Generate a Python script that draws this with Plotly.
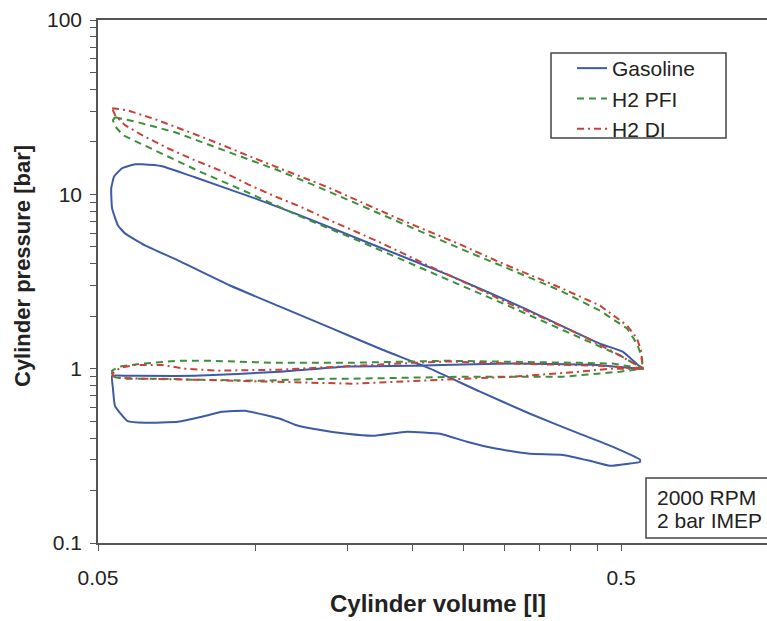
import math
import plotly.graph_objects as go

# ---- data (volume in l, pressure in bar) ----
gasoline_volume = [0.0607, 0.0663, 0.0766, 0.0998, 0.1217, 0.1693, 0.2355, 0.3277, 0.4558, 0.5044, 0.5389, 0.5508,
                   0.5389, 0.4499, 0.3108, 0.2001, 0.1496, 0.1114, 0.0766, 0.0570, 0.0532,
                   0.0534, 0.0539, 0.0570, 0.0615, 0.0711, 0.0790, 0.0863, 0.0955, 0.1057, 0.1114, 0.1190, 0.1288,
                   0.1496, 0.1678, 0.1949, 0.2254, 0.2538, 0.2896, 0.3350, 0.3873, 0.4362, 0.4764, 0.5133, 0.5437,
                   0.5437, 0.4827, 0.4174, 0.3350, 0.2688, 0.2157, 0.1731, 0.1389, 0.1114, 0.0894, 0.0711, 0.0615,
                   0.0563, 0.0546, 0.0532, 0.0530, 0.0537, 0.0556, 0.0589, 0.0607]
gasoline_pressure = [14.87, 14.49, 12.52, 9.48, 7.57, 5.09, 3.42, 2.21, 1.39, 1.25, 1.05, 1.00,
                     1.00, 1.05, 1.07, 1.04, 1.03, 0.96, 0.91, 0.91, 0.91,
                     0.77, 0.61, 0.50, 0.489, 0.496, 0.530, 0.566, 0.574, 0.537, 0.516, 0.477, 0.452,
                     0.423, 0.412, 0.435, 0.423, 0.381, 0.347, 0.325, 0.320, 0.296, 0.277, 0.284, 0.292,
                     0.30, 0.356, 0.423, 0.551, 0.738, 1.0, 1.30, 1.72, 2.27, 3.00, 4.18, 5.09,
                     5.97, 6.63, 8.31, 10.83, 12.69, 14.11, 14.87, 14.87]

h2pfi_volume = [0.0539, 0.0596, 0.0702, 0.0801, 0.0943, 0.1104, 0.1283, 0.1585, 0.1975, 0.2461, 0.3068, 0.3822,
                0.4559, 0.5134, 0.5365, 0.5461, 0.5509,
                0.4827, 0.4173, 0.3109, 0.2324, 0.1496, 0.1100, 0.0819, 0.0708, 0.0610, 0.0551, 0.0532,
                0.0532, 0.0558, 0.0657, 0.0760, 0.1020, 0.1370, 0.1537, 0.2494, 0.3872, 0.4978, 0.5509,
                0.4978, 0.3941, 0.3068, 0.2284, 0.1585, 0.1217, 0.0985, 0.0773, 0.0686, 0.0620, 0.0558,
                0.0539, 0.0534, 0.0539]
h2pfi_pressure = [27.70, 25.93, 22.72, 19.64, 16.32, 13.74, 11.41, 8.65, 6.46, 4.89, 3.71, 2.81,
                  2.15, 1.70, 1.39, 1.20, 1.00,
                  1.07, 1.08, 1.10, 1.11, 1.08, 1.08, 1.11, 1.11, 1.07, 1.03, 0.974,
                  0.899, 0.876, 0.876, 0.865, 0.853, 0.876, 0.876, 0.899, 0.899, 0.961, 1.00,
                  1.19, 1.63, 2.27, 3.33, 5.37, 7.47, 10.00, 13.74, 16.32, 18.88, 21.83,
                  24.59, 26.62, 27.70]

h2di_volume = [0.0532, 0.0568, 0.0643, 0.0811, 0.1029, 0.1376, 0.1890, 0.2461, 0.2936, 0.3822, 0.4559, 0.5134,
               0.5365, 0.5461, 0.5509,
               0.4559, 0.3109, 0.2324, 0.2001, 0.1496, 0.1114, 0.0848, 0.0733, 0.0663, 0.0588, 0.0551, 0.0532,
               0.0539, 0.0602, 0.0760, 0.1020, 0.1271, 0.1537, 0.2324, 0.3109, 0.4173, 0.4764, 0.5509,
               0.4978, 0.4173, 0.3500, 0.3028, 0.2688, 0.2157, 0.1731, 0.1376, 0.1227, 0.1090, 0.0968, 0.0863,
               0.0766, 0.0680, 0.0607, 0.0563, 0.0539, 0.0532]
h2di_pressure = [31.21, 30.39, 26.98, 20.71, 15.47, 10.97, 7.18, 5.16, 4.07, 2.92, 2.30, 1.77,
                 1.49, 1.27, 1.00,
                 1.04, 1.07, 1.10, 1.08, 1.03, 0.987, 0.974, 1.00, 1.05, 1.05, 1.01, 0.936,
                 0.89, 0.876, 0.865, 0.842, 0.831, 0.820, 0.865, 0.899, 0.961, 1.00, 1.00,
                 1.19, 1.57, 1.99, 2.39, 2.84, 3.86, 5.30, 7.18, 8.42, 9.74, 11.41, 13.56,
                 15.68, 18.38, 21.83, 24.92, 28.44, 31.21]

x_tick_values = [0.05, 0.1, 0.15, 0.2, 0.25, 0.3, 0.35, 0.4, 0.45, 0.5]
x_tick_labels = ["0.05", "", "", "", "", "", "", "", "", "0.5"]
y_tick_values = [m * d for d in (0.1, 1, 10) for m in range(1, 10)] + [100]
y_tick_labels = [("0.1" if v == 0.1 else "1" if v == 1 else "10" if v == 10 else "100" if v == 100 else "")
                 for v in y_tick_values]

FONT = "Liberation Sans, Arial, sans-serif"
W, H = 767, 621
ML, MR, MT, MB = 98, 0, 20, 78
PW, PH = W - ML - MR, H - MT - MB   # 669 x 523


def px(xp):
    return (xp - ML) / PW


def py(yp):
    return (H - MB - yp) / PH


fig = go.Figure()
fig.add_trace(go.Scatter(x=gasoline_volume, y=gasoline_pressure, mode="lines", name="Gasoline",
                         legendgroup="a", line=dict(color="#3D5AA8", width=2, shape="spline", smoothing=0.4)))
fig.add_trace(go.Scatter(x=h2pfi_volume, y=h2pfi_pressure, mode="lines", name="H2 PFI",
                         legendgroup="b", line=dict(color="#3C8F3C", width=2, dash="7px,5px")))
fig.add_trace(go.Scatter(x=h2di_volume, y=h2di_pressure, mode="lines", name="H2 DI",
                         legendgroup="c", line=dict(color="#C8423A", width=2, dash="7px,4px,2px,4px")))

x0 = math.log10(0.05)
decade_px = 523.0
fig.update_xaxes(type="log", range=[x0, x0 + PW / decade_px], tickvals=x_tick_values, ticktext=x_tick_labels,
                 ticks="outside", ticklen=6, tickcolor="#555", showline=True, linecolor="#555", linewidth=1.5,
                 mirror=True, showgrid=False, zeroline=False, ticklabelstandoff=9,
                 tickfont=dict(family=FONT, size=21, color="#222"))
fig.update_yaxes(type="log", range=[-1, 2], tickvals=y_tick_values, ticktext=y_tick_labels,
                 ticks="outside", ticklen=6, tickcolor="#555", showline=True, linecolor="#555", linewidth=1.5,
                 mirror=False, showgrid=False, zeroline=False, ticklabelstandoff=4,
                 tickfont=dict(family=FONT, size=21, color="#222"))

fig.update_layout(
    width=W, height=H, margin=dict(l=ML, r=MR, t=MT, b=MB),
    paper_bgcolor="white", plot_bgcolor="white",
    font=dict(family=FONT, size=20, color="#222"),
    legend=dict(x=px(572), y=py(48), xanchor="left", yanchor="top", bgcolor="rgba(0,0,0,0)",
                borderwidth=0, font=dict(family=FONT, size=21, color="#222"),
                traceorder="grouped", tracegroupgap=0),
    shapes=[
        dict(type="rect", xref="paper", yref="paper", x0=px(551), x1=px(726), y0=py(138), y1=py(53),
             line=dict(color="#444", width=1.5), fillcolor="rgba(0,0,0,0)"),
        dict(type="rect", xref="paper", yref="paper", x0=px(646), x1=px(790), y0=py(538), y1=py(478),
             line=dict(color="#444", width=1.5), fillcolor="white"),
    ],
    annotations=[
        dict(text="2000 RPM", xref="paper", yref="paper", x=px(655), y=py(497), xanchor="left",
             yanchor="middle", showarrow=False, font=dict(family=FONT, size=21, color="#222")),
        dict(text="2 bar IMEP", xref="paper", yref="paper", x=px(655), y=py(520), xanchor="left",
             yanchor="middle", showarrow=False, font=dict(family=FONT, size=21, color="#222")),
        dict(text="<b>Cylinder volume [l]</b>", xref="paper", yref="paper", x=px(438), y=py(603),
             xanchor="center", yanchor="middle", showarrow=False, font=dict(family=FONT, size=24, color="#222")),
        dict(text="<b>Cylinder pressure [bar]</b>", xref="paper", yref="paper", x=px(22), y=py(266),
             xanchor="center", yanchor="middle", textangle=-90, showarrow=False,
             font=dict(family=FONT, size=22, color="#222")),
    ],
)

# remove the default 8px page margin so the figure sits at the window's top-left corner
fig.write_html("out.html", config={"displayModeBar": False},
               post_script="document.body.style.margin='0px';")
